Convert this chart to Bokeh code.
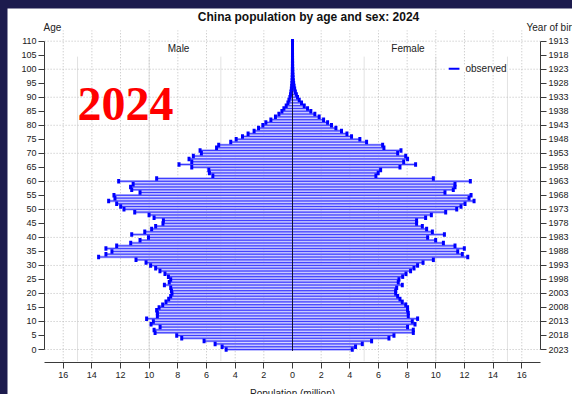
from bokeh.plotting import figure
from bokeh.models import FixedTicker, LinearAxis, Range1d
from bokeh.layouts import column
from bokeh.embed import file_html
from bokeh.resources import INLINE
from bokeh.core.properties import value

# ---------------- data (millions) ----------------
ages = list(range(0, 111))
male = [4.63, 4.91, 5.40, 6.17, 7.73, 8.08, 9.59, 9.66, 9.24, 9.87,
        9.71, 10.18, 9.43, 9.43, 9.48, 9.31, 9.06, 8.83, 8.64, 8.50,
        8.41, 8.45, 8.50, 8.94, 8.60, 8.50, 8.66, 8.90, 9.25, 9.55,
        9.90, 10.22, 10.92, 13.53, 13.02, 12.60, 13.02, 12.27, 11.29, 10.64,
        10.05, 11.22, 10.31, 9.83, 9.55, 9.04, 9.01, 9.66, 10.01, 11.01,
        11.76, 11.99, 12.27, 12.83, 12.39, 12.46, 10.64, 11.22, 11.30, 11.12,
        12.13, 9.48, 5.56, 5.80, 5.84, 7.03, 7.92, 7.03, 7.22, 6.92,
        6.36, 6.45, 5.30, 5.15, 4.31, 3.93, 3.49, 3.10, 2.68, 2.37,
        2.07, 1.86, 1.51, 1.19, 0.95, 0.74, 0.60, 0.44, 0.32, 0.25,
        0.18, 0.14, 0.11, 0.08, 0.06, 0.04, 0.03, 0.02, 0.015, 0.01,
        0.008, 0.005, 0.003, 0.002, 0.001, 0.001, 0.0, 0.0, 0.0, 0.0, 0.0]
female = [4.17, 4.40, 4.87, 5.52, 6.73, 7.08, 8.43, 8.43, 8.03, 8.55,
          8.36, 8.73, 8.08, 8.08, 8.03, 8.03, 7.90, 7.66, 7.50, 7.34,
          7.20, 7.20, 7.27, 7.66, 7.38, 7.43, 7.69, 7.92, 8.24, 8.48,
          8.73, 9.11, 9.83, 12.23, 11.85, 11.53, 11.99, 11.34, 10.53, 9.99,
          9.43, 10.60, 9.76, 9.36, 9.06, 8.66, 8.66, 9.29, 9.69, 10.69,
          11.46, 11.76, 12.04, 12.67, 12.32, 12.46, 10.64, 11.22, 11.34, 11.34,
          12.41, 9.83, 5.82, 5.98, 6.15, 7.50, 8.59, 7.76, 8.03, 7.90,
          7.34, 7.57, 6.38, 6.29, 5.17, 4.70, 4.12, 3.80, 3.42, 3.03,
          2.72, 2.45, 2.17, 1.86, 1.56, 1.28, 1.05, 0.82, 0.63, 0.47,
          0.35, 0.27, 0.20, 0.15, 0.11, 0.08, 0.06, 0.04, 0.03, 0.02,
          0.015, 0.01, 0.007, 0.005, 0.003, 0.002, 0.001, 0.001, 0.0, 0.0, 0.0]

x_ticks = list(range(-16, 17, 2))
x_tick_labels = {t: str(abs(t)) for t in x_ticks}
age_ticks = list(range(0, 111, 5))
birth_labels = {a: str(2023 - a) for a in age_ticks}
grid_even = [t for t in x_ticks if t != 0]
grid_five = [-15, -10, -5, 5, 10, 15]
grid_age = list(range(0, 111, 10))

title_text = "China population by age and sex: 2024"
year_text = "2024"

NAVY = "#1c1b4d"
BAR_FILL = "#a9a9ff"
BAR_LINE = "#3b3bff"
MARK = "#0000ff"
GRID = "#bdbdbd"
AX = "#3a3a3a"
SANS = "Liberation Sans"

# data window of the whole drawing area (frame fills the figure)
X0, X1 = -19.888, 19.539
Y0, Y1 = -16.05, 121.66
AXL, AXR, AXB = -17.3, 17.3, -4.64   # where the axes sit

p = figure(width=565, height=386, x_range=Range1d(X0, X1), y_range=Range1d(Y0, Y1),
           x_axis_type=None, y_axis_type=None,
           output_backend="svg", toolbar_location=None,
           min_border=0, min_border_left=0, min_border_right=0,
           min_border_top=0, min_border_bottom=0)
p.outline_line_color = None
p.background_fill_color = "white"
p.border_fill_color = "white"


def style_axis(ax):
    ax.axis_line_color = AX
    ax.major_tick_line_color = AX
    ax.minor_tick_line_color = None
    ax.major_tick_out = 6
    ax.major_tick_in = 0
    ax.major_label_text_font = SANS
    ax.major_label_text_font_size = "9px"
    ax.major_label_text_color = "#222222"
    ax.major_label_standoff = 2


bottom = LinearAxis(ticker=FixedTicker(ticks=x_ticks), major_label_overrides=x_tick_labels,
                    fixed_location=AXB, bounds=(AXL, AXR))
style_axis(bottom)
bottom.major_label_standoff = 3
p.add_layout(bottom, "below")

left = LinearAxis(ticker=FixedTicker(ticks=age_ticks), bounds=(0, 110), fixed_location=AXL)
style_axis(left)
p.add_layout(left, "left")

right = LinearAxis(ticker=FixedTicker(ticks=age_ticks), bounds=(0, 110),
                   major_label_overrides=birth_labels, fixed_location=AXR)
style_axis(right)
p.add_layout(right, "right")

# grid lines
p.segment(x0=grid_five, y0=[-4.2] * len(grid_five), x1=grid_five, y1=[104.5] * len(grid_five),
          line_color="#e2e2e2", line_width=1)
p.segment(x0=grid_even, y0=[-4.2] * len(grid_even), x1=grid_even, y1=[113.8] * len(grid_even),
          line_color=GRID, line_width=1, line_dash="1 2")
p.segment(x0=[AXL] * len(grid_age), y0=grid_age, x1=[AXR] * len(grid_age), y1=grid_age,
          line_color=GRID, line_width=1, line_dash="1 2")

neg_male = [-m for m in male]
zeros = [0] * len(ages)

# bars
p.hbar(y=ages, left=neg_male, right=zeros, height=0.9, fill_color=BAR_FILL, line_color=None)
p.hbar(y=ages, left=zeros, right=female, height=0.9, fill_color=BAR_FILL, line_color=None)
p.segment(x0=neg_male, y0=ages, x1=zeros, y1=ages, line_color=BAR_LINE, line_width=1)
p.segment(x0=zeros, y0=ages, x1=female, y1=ages, line_color=BAR_LINE, line_width=1)

# centre line
p.segment(x0=[0], y0=[-0.5], x1=[0], y1=[110], line_color="#111133", line_width=1)

# end markers
p.rect(x=neg_male, y=ages, width=3, height=4.5, width_units="screen", height_units="screen",
       fill_color=MARK, line_color=None)
p.rect(x=female, y=ages, width=3, height=4.5, width_units="screen", height_units="screen",
       fill_color=MARK, line_color=None)

# legend
p.quad(left=[10.65], right=[15.0], bottom=[99.3], top=[101.1], fill_color="white", line_color=None)
p.segment(x0=[10.9], y0=[100.2], x1=[11.65], y1=[100.2], line_color=MARK, line_width=2)


def txt(x, y, text, size, align="center", baseline="middle", style="normal",
        color="#222222", font=SANS):
    p.text(x=[x], y=[y], text=[text], text_font=value(font), text_font_size=size,
           text_align=align, text_baseline=baseline, text_font_style=style,
           text_color=color)


txt(12.07, 100.2, "observed", "10px", align="left")
txt(1.12, 118.8, title_text, "12px", style="bold", color="#111111")
txt(-17.37, 115.0, "Age", "10px", align="left")
txt(16.33, 115.0, "Year of birth", "10px", align="left")
txt(-7.95, 107.4, "Male", "10px")
txt(8.06, 107.4, "Female", "10px")
txt(-11.65, 87.76, year_text, "48px", baseline="alphabetic", style="bold", color="#ff0000",
    font="Liberation Serif")
txt(0.0, -13.6, "Population (million)", "10px", baseline="top")

layout = column(p, styles={"background-color": NAVY, "padding-left": "7px", "padding-top": "8px"})

with open("out.html", "w") as f:
    f.write(file_html(layout, INLINE))
